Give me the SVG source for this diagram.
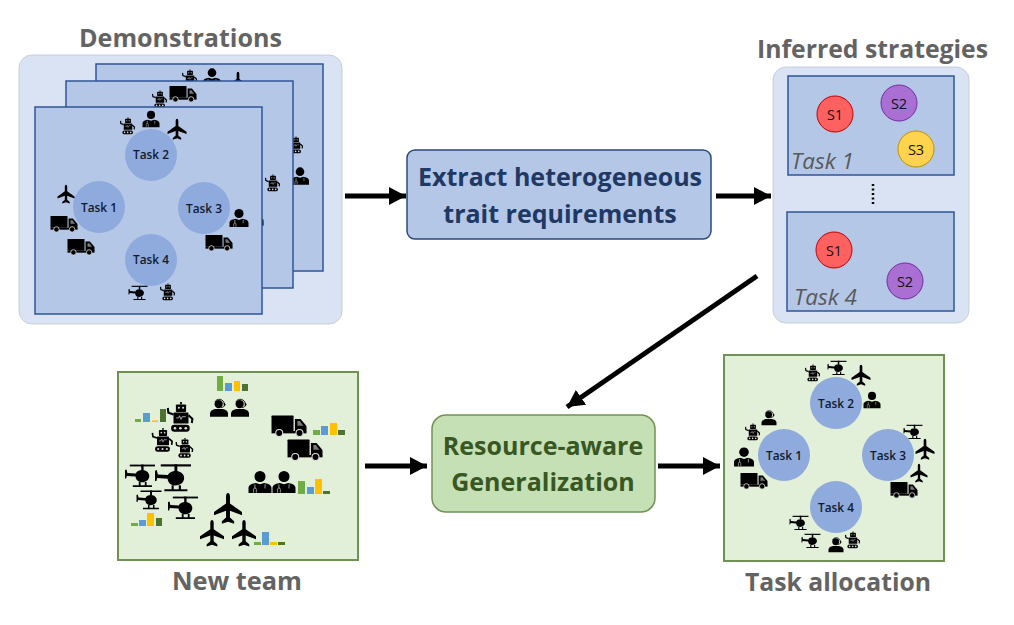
<svg xmlns="http://www.w3.org/2000/svg" width="1014" height="625" viewBox="0 0 1014 625">
<style>
text{font-family:"Open Sans","Noto Sans","Liberation Sans",sans-serif;text-anchor:middle}
.title{font-size:25px;font-weight:700;fill:#636363}
.panel{fill:#DAE3F3;stroke:#C6CEDC;stroke-width:1}
.sheet{fill:#B4C7E7;stroke:#2F5597;stroke-width:1.5}
.task{fill:#8FAADC}
.tl{font-size:12.5px;font-weight:600;fill:#111a2e}
.sl{font-size:14.5px;fill:#111}
.it{font-size:22.5px;font-style:italic;fill:#595959;text-anchor:start}
.green{fill:#E2EFD9;stroke:#6F9254;stroke-width:2}
.big{font-size:25px;font-weight:700}
.g1{fill:#70AD47}.g2{fill:#5B9BD5}.g3{fill:#FFC000}.g4{fill:#4E7232}
.wire{stroke:#000;stroke-width:5;fill:none;marker-end:url(#ah)}
</style>
<defs>
<marker id="ah" markerUnits="userSpaceOnUse" markerWidth="18" markerHeight="18" refX="17" refY="9" orient="auto"><path d="M0 0L17 9L0 18z" fill="#000"/></marker>
<g id="truck"><rect x="-50" y="-30" width="63" height="44" rx="2"/><path d="M17-20H33L50 0V16H17z"/><path d="M24-14H31L41-1H24z" fill="#ddd" opacity=".55"/><rect x="-50" y="14" width="100" height="7"/><circle cx="-28" cy="20" r="10" stroke="#ddd" stroke-width="3"/><circle cx="30" cy="20" r="10" stroke="#ddd" stroke-width="3"/></g>
<g id="plane"><path d="M-7-42C-7-58 7-58 7-42V-16L50 14V26L7 10V34L22 47V56L0 49L-22 56V47L-7 34V10L-50 26V14L-7-16z"/></g>
<g id="heli"><rect x="-34" y="-38" width="84" height="6"/><rect x="4" y="-38" width="8" height="20"/><path d="M-50-20L-45-22L-42-10L-14-8C-10-22 22-26 30-6C36 14 14 24 0 20C-10 18-15 8-15 2L-44 0L-46 8L-50 8z"/><path d="M-4 20h6v11h14v-11h6v11h18v6H-24v-6h20z"/></g>
<g id="robot"><rect x="-3" y="-50" width="6" height="8"/><rect x="-17" y="-42" width="34" height="25" rx="3"/><circle cx="-7" cy="-31" r="3.500" fill="#ddd"/><circle cx="7" cy="-31" r="3.500" fill="#ddd"/><rect x="-25" y="-15" width="50" height="37" rx="2"/><path d="M-16 3h8l3-7 5 12 4-9h12" stroke="#ddd" stroke-width="2.500" fill="none"/><path d="M-25-8L-42-14L-44-30M25-6L38 6L36 20" stroke="#000" stroke-width="7" fill="none"/><rect x="-33" y="26" width="62" height="23" rx="11"/><circle cx="-20" cy="37.500" r="4.500" fill="#ddd"/><circle cx="-2" cy="37.500" r="4.500" fill="#ddd"/><circle cx="16" cy="37.500" r="4.500" fill="#ddd"/></g>
<g id="doc"><circle cy="-24" r="24"/><path d="M-50 48V26C-50 10-30 6-18 4L0 10L18 4C30 6 50 10 50 26V48z"/><path d="M-22 10V26M-28 46V32C-28 24-16 24-16 32V46" stroke="#ddd" stroke-width="3" fill="none"/><path d="M22 10V28" stroke="#ddd" stroke-width="3"/></g>
<g id="head"><circle cx="-2" cy="-22" r="23"/><path d="M-22-34C-12-58 30-52 30-18C30-8 22-4 12-2" stroke="#000" stroke-width="5" fill="none"/><path d="M26-30L38-20L28-8z"/><path d="M-50 48V32C-50 12-26 6-14 6H14C26 6 50 12 50 32V48z"/></g>
</defs>

<g id="connectors">
<line class="wire" x1="345" y1="196" x2="406" y2="196"/>
<line class="wire" x1="716" y1="196" x2="771" y2="196"/>
<line class="wire" x1="757" y1="276" x2="567" y2="407"/>
<line class="wire" x1="365" y1="466" x2="427" y2="466"/>
<line class="wire" x1="658" y1="466" x2="720" y2="466"/>
</g>

<g id="demonstrations">
<text class="title" x="180.500" y="47" textLength="203" lengthAdjust="spacingAndGlyphs">Demonstrations</text>
<rect class="panel" x="19" y="55" width="323" height="269" rx="13"/>
<rect class="sheet" x="96" y="64" width="227" height="207"/>
<use href="#robot" transform="translate(190,78) scale(.17)"/>
<use href="#doc" transform="translate(212,77) scale(.18)"/>
<use href="#plane" transform="translate(238,82) scale(.19)"/>
<use href="#robot" transform="translate(296,145) scale(.17)"/>
<use href="#doc" transform="translate(300,176) scale(.18)"/>
<rect class="sheet" x="66" y="81" width="227" height="207"/>
<use href="#robot" transform="translate(160,99) scale(.17)"/>
<use href="#truck" transform="translate(183,94) scale(.27)"/>
<use href="#robot" transform="translate(273,183) scale(.17)"/>
<use href="#truck" transform="translate(250,220) scale(.27)"/>
<rect class="sheet" x="35" y="107" width="227" height="207"/>
<circle class="task" cx="151" cy="155" r="26"/><text class="tl" x="151" y="159" textLength="36" lengthAdjust="spacingAndGlyphs">Task 2</text>
<circle class="task" cx="99" cy="207" r="26"/><text class="tl" x="99" y="211.500" textLength="36" lengthAdjust="spacingAndGlyphs">Task 1</text>
<circle class="task" cx="204" cy="208" r="26"/><text class="tl" x="204" y="212.500" textLength="36" lengthAdjust="spacingAndGlyphs">Task 3</text>
<circle class="task" cx="151" cy="260" r="26"/><text class="tl" x="151" y="264" textLength="36" lengthAdjust="spacingAndGlyphs">Task 4</text>
<use href="#robot" transform="translate(128,126) scale(.17)"/>
<use href="#doc" transform="translate(151,119) scale(.17)"/>
<use href="#plane" transform="translate(177,129) scale(.19)"/>
<use href="#plane" transform="translate(66,194) scale(.17)"/>
<use href="#truck" transform="translate(64,224) scale(.27)"/>
<use href="#truck" transform="translate(81,247) scale(.27)"/>
<use href="#doc" transform="translate(239,218) scale(.19)"/>
<use href="#truck" transform="translate(219,243) scale(.27)"/>
<use href="#heli" transform="translate(138,293) scale(.19)"/>
<use href="#robot" transform="translate(168,292) scale(.17)"/>
</g>

<g id="extract">
<rect x="407" y="150" width="304" height="89" rx="8" fill="#B4C7E7" stroke="#2B4A7A" stroke-width="1.500"/>
<text class="big" x="560" y="186" fill="#203864">Extract heterogeneous</text>
<text class="big" x="560" y="223" fill="#203864">trait requirements</text>
</g>

<g id="strategies">
<text class="title" x="872.500" y="58" textLength="231" lengthAdjust="spacingAndGlyphs">Inferred strategies</text>
<rect class="panel" x="773" y="67" width="196" height="256" rx="13"/>
<rect class="sheet" x="788" y="76" width="166" height="99"/>
<rect class="sheet" x="787" y="212" width="167" height="99"/>
<text class="it" x="791" y="169">Task 1</text>
<text class="it" x="794" y="305">Task 4</text>
<path d="M873 184V206" stroke="#000" stroke-width="2.500" stroke-dasharray="2 2.500" fill="none"/>
<circle cx="835" cy="114" r="18" fill="#FF6161" stroke="#C00000" stroke-width="1"/><text class="sl" x="835" y="119.500">S1</text>
<circle cx="899" cy="103" r="18" fill="#AA6FD2" stroke="#7030A0" stroke-width="1"/><text class="sl" x="899" y="108.500">S2</text>
<circle cx="916" cy="149" r="18" fill="#FFD34D" stroke="#BF9000" stroke-width="1"/><text class="sl" x="916" y="154.500">S3</text>
<circle cx="834" cy="250" r="18" fill="#FF6161" stroke="#C00000" stroke-width="1"/><text class="sl" x="834" y="255.500">S1</text>
<circle cx="905" cy="281" r="18" fill="#AA6FD2" stroke="#7030A0" stroke-width="1"/><text class="sl" x="905" y="286.500">S2</text>
</g>

<g id="new-team">
<rect class="green" x="118" y="372" width="240" height="188"/>
<text class="title" x="237" y="590" textLength="130" lengthAdjust="spacingAndGlyphs">New team</text>
<use href="#head" transform="translate(219,408) scale(.18)"/>
<use href="#head" transform="translate(240,408) scale(.18)"/>
<use href="#robot" transform="translate(181,417) scale(.3)"/>
<use href="#robot" transform="translate(163,440) scale(.24)"/>
<use href="#robot" transform="translate(185,448) scale(.2)"/>
<use href="#heli" transform="translate(140,476) scale(.3)"/>
<use href="#heli" transform="translate(173,478) scale(.36)"/>
<use href="#heli" transform="translate(149,500) scale(.25)"/>
<use href="#heli" transform="translate(183,508) scale(.3)"/>
<use href="#truck" transform="translate(289,426) scale(.35)"/>
<use href="#truck" transform="translate(305,450) scale(.35)"/>
<use href="#doc" transform="translate(260,482) scale(.23)"/>
<use href="#doc" transform="translate(284,482) scale(.23)"/>
<use href="#plane" transform="translate(228,508) scale(.28)"/>
<use href="#plane" transform="translate(212,533) scale(.24)"/>
<use href="#plane" transform="translate(244,533) scale(.24)"/>
<g>
<rect class="g1" x="217" y="376" width="6" height="15"/><rect class="g2" x="225" y="383" width="7" height="8"/><rect class="g3" x="234" y="381" width="6" height="10"/><rect class="g4" x="242" y="384" width="6" height="7"/>
<rect class="g1" x="135" y="419" width="6" height="3"/><rect class="g2" x="143" y="413" width="7" height="9"/><rect class="g3" x="152" y="420.500" width="6" height="1.500"/><rect class="g4" x="160" y="409" width="6" height="13"/>
<rect class="g1" x="313" y="430" width="7" height="5"/><rect class="g2" x="321" y="426" width="7" height="9"/><rect class="g3" x="330" y="423" width="7" height="12"/><rect class="g4" x="338" y="430" width="7" height="5"/>
<rect class="g1" x="298" y="481" width="7" height="13"/><rect class="g2" x="307" y="487" width="7" height="7"/><rect class="g3" x="315" y="479" width="7" height="15"/><rect class="g4" x="323" y="491" width="7" height="3"/>
<rect class="g1" x="131" y="523" width="7" height="3"/><rect class="g2" x="139" y="520" width="7" height="6"/><rect class="g3" x="147" y="513" width="7" height="13"/><rect class="g4" x="156" y="518" width="6" height="8"/>
<rect class="g1" x="254" y="542" width="7" height="3"/><rect class="g2" x="262" y="532" width="7" height="13"/><rect class="g3" x="270" y="542" width="7" height="3"/><rect class="g4" x="278" y="542" width="7" height="3"/>
</g>
</g>

<g id="generalization">
<rect x="432" y="415" width="223" height="97" rx="14" fill="#C5E0B4" stroke="#6F9254" stroke-width="1.500"/>
<text class="big" x="543" y="455" fill="#385723">Resource-aware</text>
<text class="big" x="543" y="491" fill="#385723">Generalization</text>
</g>

<g id="allocation">
<rect class="green" x="724" y="355" width="220" height="206"/>
<text class="title" x="838" y="591" textLength="186" lengthAdjust="spacingAndGlyphs">Task allocation</text>
<circle class="task" cx="836" cy="403" r="26"/><text class="tl" x="836" y="407.500" textLength="36" lengthAdjust="spacingAndGlyphs">Task 2</text>
<circle class="task" cx="784" cy="455" r="26"/><text class="tl" x="784" y="459.500" textLength="36" lengthAdjust="spacingAndGlyphs">Task 1</text>
<circle class="task" cx="888" cy="455" r="26"/><text class="tl" x="888" y="459.500" textLength="36" lengthAdjust="spacingAndGlyphs">Task 3</text>
<circle class="task" cx="836" cy="507" r="26"/><text class="tl" x="836" y="511.500" textLength="36" lengthAdjust="spacingAndGlyphs">Task 4</text>
<use href="#robot" transform="translate(813,373) scale(.17)"/>
<use href="#heli" transform="translate(837,368) scale(.19)"/>
<use href="#plane" transform="translate(861,375) scale(.19)"/>
<use href="#doc" transform="translate(872,400) scale(.17)"/>
<use href="#heli" transform="translate(913,432) scale(.19)"/>
<use href="#plane" transform="translate(925,449) scale(.19)"/>
<use href="#plane" transform="translate(919,473) scale(.17)"/>
<use href="#truck" transform="translate(904,490) scale(.27)"/>
<use href="#head" transform="translate(769,418) scale(.15)"/>
<use href="#robot" transform="translate(753,432) scale(.17)"/>
<use href="#doc" transform="translate(744,457) scale(.2)"/>
<use href="#truck" transform="translate(754,481) scale(.27)"/>
<use href="#heli" transform="translate(799,523) scale(.19)"/>
<use href="#heli" transform="translate(811,541) scale(.19)"/>
<use href="#head" transform="translate(836,545) scale(.15)"/>
<use href="#robot" transform="translate(853,540) scale(.17)"/>
</g>
</svg>
